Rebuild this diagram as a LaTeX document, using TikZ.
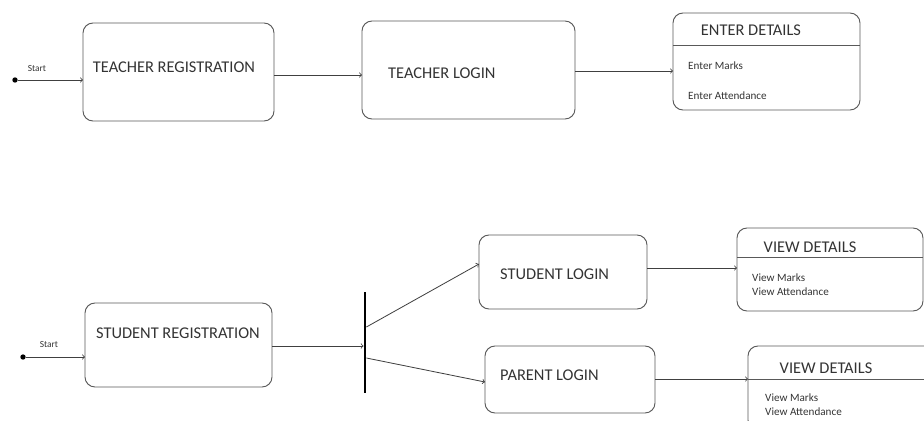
\documentclass[tikz,border=0pt]{standalone}
\usepackage{fontspec}
\setmainfont{Carlito}
\begin{document}
\begin{tikzpicture}[x=0.03cm,y=-0.03cm,font=\fontsize{14}{16}\selectfont,text=black!80,
	statebox/.style={draw=black!65,line width=0.8pt,rounded corners=0.3cm,inner sep=0pt,outer sep=0pt},
	small/.style={font=\fontsize{9.5}{11}\selectfont,anchor=west,inner sep=0pt},
	startdot/.style={circle,fill=black,inner sep=0pt,minimum size=0.16cm},
	conn/.style={->,black!75,line width=0.7pt}]
		\useasboundingbox (0,0) rectangle (924,421);
		\clip (0,0) rectangle (924,421);
		% teacher side
		\node[startdot] (s1) at (15,80) {};
		\node[font=\fontsize{8}{9}\selectfont] (st1) at (37,68) {Start};
		\node[statebox,minimum width=5.73cm,minimum height=2.94cm] (treg) at (178.5,72) {};
		\node (tregtxt) at (174,67) {TEACHER REGISTRATION};
		\node[statebox,minimum width=6.39cm,minimum height=2.94cm] (tlog) at (468.5,70) {};
		\node[anchor=west,inner sep=0pt] (tlogtxt) at (388,73) {TEACHER LOGIN};
		\node[statebox,minimum width=5.61cm,minimum height=2.91cm] (ed) at (766.5,61.5) {};
		\draw[black!65,line width=0.8pt] (ed.west |- 0,45) -- (ed.east |- 0,45);
		\node (edtxt) at (751,30) {ENTER DETAILS};
		\node[small] (em) at (688,66) {Enter Marks};
		\node[small] (ea) at (688,96) {Enter Attendance};
		\draw[conn] (s1) -- (treg.west |- 0,80);
		\draw[conn] (treg.east |- 0,75) -- (tlog.west |- 0,75);
		\draw[conn] (tlog.east |- 0,71) -- (ed.west |- 0,71);
		% student side
		\node[startdot] (s2) at (23,357) {};
		\node[font=\fontsize{8}{9}\selectfont] (st2) at (49,344) {Start};
		\node[statebox,minimum width=5.61cm,minimum height=2.52cm] (sreg) at (178.5,345) {};
		\node (sregtxt) at (178,333) {STUDENT REGISTRATION};
		\node[fill=black,inner sep=0pt,minimum width=2pt,minimum height=3.03cm] (fork) at (365,342.5) {};
		\node[statebox,minimum width=5.04cm,minimum height=2.22cm] (slog) at (563,272) {};
		\node[anchor=west,inner sep=0pt] (slogtxt) at (500,274) {STUDENT LOGIN};
		\node[statebox,minimum width=5.1cm,minimum height=2.01cm] (plog) at (570,379.5) {};
		\node[anchor=west,inner sep=0pt] (plogtxt) at (500,375) {PARENT LOGIN};
		\node[statebox,minimum width=5.58cm,minimum height=2.49cm] (vd1) at (830,269.5) {};
		\draw[black!65,line width=0.8pt] (vd1.west |- 0,257) -- (vd1.east |- 0,257);
		\node (vd1txt) at (810,247) {VIEW DETAILS};
		\node[small] (vm1) at (752,278) {View Marks};
		\node[small] (va1) at (752,292) {View Attendance};
		\node[statebox,minimum width=5.61cm,minimum height=2.52cm] (vd2) at (841.5,388) {};
		\draw[black!65,line width=0.8pt] (vd2.west |- 0,379) -- (vd2.east |- 0,379);
		\node (vd2txt) at (826,368) {VIEW DETAILS};
		\node[small] (vm2) at (765,398) {View Marks};
		\node[small] (va2) at (765,412) {View Attendance};
		\draw[conn] (s2) -- (sreg.west |- 0,357);
		\draw[conn] (sreg.east |- 0,346) -- (fork.west |- 0,346);
		\draw[conn] (fork.east |- 0,327) -- (slog.west |- 0,264);
		\draw[conn] (fork.east |- 0,358) -- (plog.west |- 0,382);
		\draw[conn] (slog.east |- 0,268) -- (vd1.west |- 0,268);
		\draw[conn] (plog.east |- 0,379) -- (vd2.west |- 0,379);
	\end{tikzpicture}
\end{document}
